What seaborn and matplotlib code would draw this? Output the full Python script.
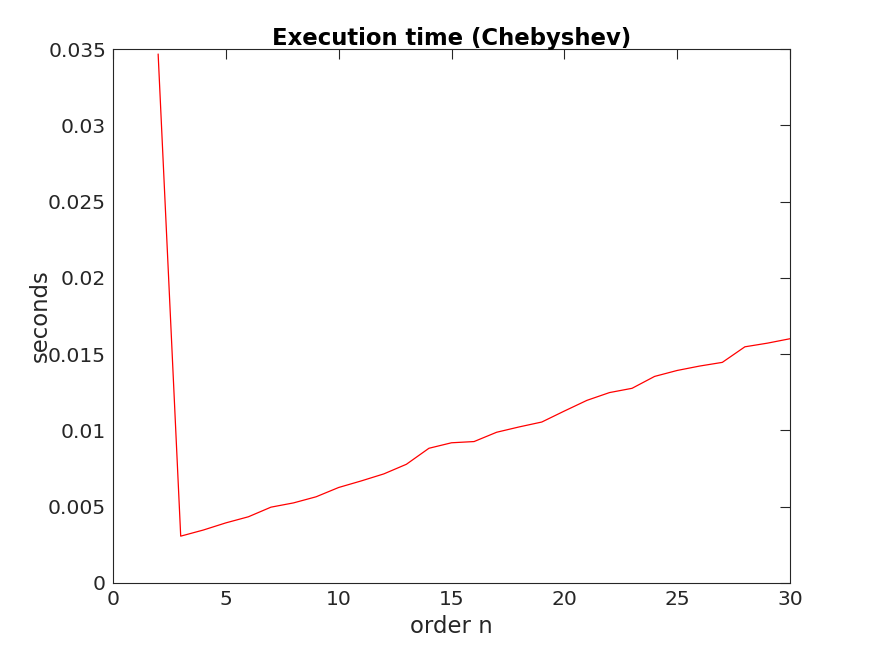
import matplotlib
matplotlib.use("Agg")
import matplotlib.pyplot as plt
import pandas as pd
import seaborn as sns

# order n and the measured execution time in seconds
orders = list(range(2, 31))
seconds = [
    0.03467, 0.00307, 0.00347, 0.00394, 0.00434, 0.00497, 0.00525, 0.00565,
    0.00626, 0.00669, 0.00715, 0.00778, 0.00883, 0.00919, 0.00927, 0.00988,
    0.01023, 0.01055, 0.01127, 0.01197, 0.01248, 0.01276, 0.01354, 0.01393,
    0.01422, 0.01446, 0.01548, 0.01572, 0.01601,
]
x_ticks = [0, 5, 10, 15, 20, 25, 30]
y_ticks = [0, 0.005, 0.01, 0.015, 0.02, 0.025, 0.03, 0.035]
y_tick_labels = ["0", "0.005", "0.01", "0.015", "0.02", "0.025", "0.03", "0.035"]

sns.set_style("white")
plt.rcParams["font.family"] = ["DejaVu Sans"]

timings = pd.DataFrame({"order": orders, "seconds": seconds})

fig = plt.figure(figsize=(8.74, 6.56), dpi=100)
ax = fig.add_axes([0.1293, 0.1113, 0.7746, 0.814])

sns.lineplot(data=timings, x="order", y="seconds", color="red", linewidth=0.9, ax=ax)

ax.set_xlim(0, 30)
ax.set_ylim(0, 0.035)
ax.set_xticks(x_ticks)
ax.set_yticks(y_ticks)
ax.set_yticklabels(y_tick_labels)
ax.tick_params(direction="in", length=7, width=0.8, top=True, right=True,
               labelsize=14.6, colors="#262626")
ax.tick_params(axis="x", pad=5)
ax.tick_params(axis="y", pad=5)
for spine in ax.spines.values():
    spine.set_color("#262626")
    spine.set_linewidth(0.8)

ax.set_title("Execution time (Chebyshev)", fontsize=16.4, fontweight="bold",
             color="black", pad=3)
ax.set_xlabel("order n", fontsize=16.4, color="#262626")
ax.set_ylabel("seconds", fontsize=16.4, color="#262626")
ax.xaxis.set_label_coords(0.5, -0.06)
ax.yaxis.set_label_coords(-0.091, 0.5)

fig.patch.set_facecolor("white")
plt.savefig("out.png")
